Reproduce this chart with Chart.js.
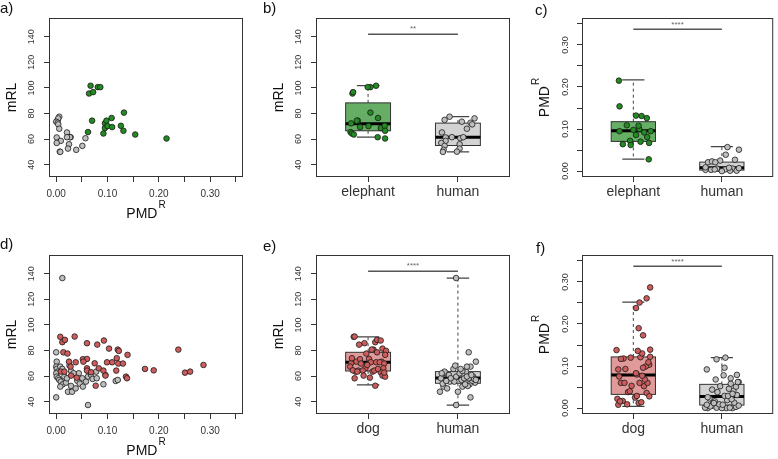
<!DOCTYPE html>
<html>
<head>
<meta charset="utf-8">
<script src="https://cdn.jsdelivr.net/npm/chart.js@4.4.1/dist/chart.umd.min.js"></script>
<style>
  body { margin: 0; background: #fff; width: 778px; height: 459px; position: relative; overflow: hidden; }
  canvas { position: absolute; }
</style>
</head>
<body>
<script>
// ---- axis ticks / categories ----
const pmdTicks = [0, 0.05, 0.10, 0.15, 0.20, 0.25, 0.30, 0.35];
const pmdTickLabels = ['0.00', '', '0.10', '', '0.20', '', '0.30', ''];
const mrlTicks = [40, 60, 80, 100, 120, 140];
const mrlTickLabels = ['40', '60', '80', '100', '120', '140'];
const groupsTop = ['elephant', 'human'];
const groupsBottom = ['dog', 'human'];

// ---- elephant vs human ----
const elPMD = [0.067, 0.064, 0.072, 0.081, 0.086, 0.070, 0.062, 0.028, 0.092, 0.095, 0.098, 0.095, 0.100, 0.108, 0.109, 0.126, 0.132, 0.131, 0.154, 0.215];
const elMRL = [101.7, 95.6, 96.7, 100.6, 100.6, 74.4, 65.5, 61.5, 64.4, 72.3, 74.4, 68.6, 70.2, 76.5, 69.4, 70.4, 80.7, 66.5, 63.6, 60.5];
const elJitB = [0.089, -0.174, -0.167, 0.026, -0.004, -0.115, -0.196, 0.107, -0.18, -0.189, -0.126, 0.141, 0.004, 0.111, -0.089, 0.185, 0.026, 0.189, -0.159, 0.189];
const elJitC = [0.178, -0.119, -0.037, 0.156, 0.030, 0.081, -0.030, 0.174, 0.122, -0.156, 0, 0.196, 0.067, 0.059, -0.074, 0.152, 0.030, 0.093, -0.156, -0.163];

const huPMD = [0.006, 0.003, 0.004, 0.000, 0.003, 0.004, 0.006, 0.021, 0.027, 0.001, 0.057, 0.009, 0.001, 0.025, 0.051, 0.023, 0.039, 0.007, 0.008, 0.021];
const huMRL = [77.5, 75.0, 76.2, 73.6, 72.8, 71.5, 68.1, 65.2, 61.5, 61.3, 60.7, 58.6, 57.0, 56.0, 54.7, 52.6, 51.6, 50.2, 50.0, 61.5];
const huJitB = [-0.093, -0.148, 0.185, 0.044, 0.141, 0.159, 0.100, -0.178, -0.067, -0.137, 0.026, -0.137, -0.185, 0.019, -0.148, 0.019, -0.159, -0.011, -0.167, 0.06];
const huJitC = [-0.056, -0.122, 0.037, 0, -0.185, -0.081, 0.122, -0.156, 0.148, 0.093, 0.063, -0.185, 0.167, -0.019, 0.193, -0.111, 0.044, 0.193, 0.081, -0.074];

// ---- dog vs human ----
const dogPMD = [0.008, 0.012, 0.017, 0.036, 0.060, 0.080, 0.093, 0.103, 0.120, 0.122, 0.139, 0.014, 0.022, 0.025, 0.038, 0.052, 0.060, 0.053, 0.075, 0.099, 0.109, 0.118, 0.121, 0.130, 0.009, 0.016, 0.028, 0.060, 0.060, 0.068, 0.083, 0.092, 0.096, 0.117, 0.136, 0.138, 0.077, 0.040, 0.029, 0.173, 0.190, 0.238, 0.251, 0.261, 0.287];
const dogMRL = [90.7, 86.5, 88.3, 90.9, 85.7, 84.6, 87.8, 81.5, 80.7, 79.7, 76.6, 78.6, 77.6, 71.3, 70.8, 73.2, 73.4, 71.3, 70.0, 70.8, 70.8, 74.0, 69.8, 69.8, 63.5, 63.5, 67.4, 66.1, 64.3, 63.0, 66.1, 64.3, 60.4, 64.3, 59.6, 58.3, 52.5, 58.8, 60.4, 65.6, 64.5, 80.7, 62.7, 63.5, 68.7];
const dogJitE = [-0.16, 0.08, 0.10, -0.15, -0.04, -0.10, 0.14, 0.16, 0.06, 0.20, 0.19, 0.10, -0.02, -0.13, 0.09, -0.09, 0.01, 0.15, -0.19, 0.03, 0.13, -0.18, 0.18, -0.08, -0.14, 0.05, -0.20, 0.17, -0.11, 0.14, -0.03, 0.07, 0.16, -0.06, 0.19, -0.15, 0.08, 0.02, -0.05, 0.11, -0.17, 0.04, 0.18, -0.12, -0.01];
const dogJitF = [-0.17, 0.06, -0.12, 0.15, -0.14, 0.04, -0.09, 0.18, -0.03, 0.19, 0.19, 0.09, -0.18, 0.02, -0.06, 0.12, 0.16, -0.02, -0.16, 0.14, 0.17, -0.11, 0.08, 0.10, -0.07, -0.15, 0.18, 0.07, -0.10, 0.13, 0.03, -0.17, 0.11, -0.14, 0.05, -0.19, 0.10, -0.04, 0.04, 0.11, 0.06, 0.03, 0.07, 0.15, 0.19];

const hdPMD = [0.012, 0.000, 0.000, 0.062, 0.001, 0.000, 0.001, 0.003, 0.000, 0.001, 0.004, 0.006, 0.009, 0.013, 0.008, 0.019, 0.016, 0.021, 0.023, 0.029, 0.031, 0.038, 0.041, 0.044, 0.046, 0.051, 0.052, 0.058, 0.062, 0.068, 0.071, 0.078, 0.079, 0.092, 0.096, 0.116, 0.120, 0.026, 0.029, 0.034, 0.008, 0.012];
const hdMRL = [136.6, 78.6, 43.4, 37.4, 71.3, 67.4, 65.6, 63.5, 62.2, 59.6, 58.3, 57.0, 55.7, 53.6, 51.8, 54.9, 59.6, 58.3, 47.8, 52.3, 47.8, 50.4, 56.4, 62.2, 54.1, 58.3, 51.8, 55.7, 59.6, 60.9, 57.8, 63.5, 58.3, 53.6, 60.9, 56.2, 57.0, 68.2, 64.0, 62.2, 67.4, 65.6];
const hdJitE = [-0.02, 0.12, 0.14, -0.02, 0.20, 0.14, -0.05, 0.09, -0.13, 0.17, -0.19, 0.04, -0.09, 0.13, -0.16, 0.19, -0.02, 0.07, -0.20, 0.11, 0.00, -0.12, 0.16, 0.02, -0.17, 0.12, 0.05, -0.04, 0.10, -0.10, 0.18, -0.15, -0.08, 0.08, 0.15, -0.13, 0.20, -0.03, 0.05, -0.18, 0.10, 0.03];
const hdJitF = [-0.10, -0.16, 0.05, 0.19, -0.06, 0.12, -0.19, 0.16, 0.00, 0.09, -0.13, 0.19, -0.03, 0.14, -0.17, 0.06, -0.08, 0.11, -0.14, 0.03, 0.17, -0.05, 0.13, -0.11, 0.08, 0.16, -0.02, 0.10, 0.18, -0.07, 0.10, 0.02, 0.17, -0.17, 0.03, -0.06, 0.04, -0.16, 0.07, 0.12, 0.01, -0.09];

// ---- box statistics: [whisker low, q1, median, q3, whisker high] ----
const boxElMRL = [61.5, 66.5, 72.0, 88.3, 101.7];
const boxHuMRL = [50.0, 55.0, 61.5, 72.5, 77.5];
const boxElPMD = [0.0286, 0.0706, 0.096, 0.1175, 0.2167];
const boxHuPMD = [0.0, 0.0024, 0.008, 0.0214, 0.058];
const boxDogMRL = [53.1, 64.0, 70.8, 78.6, 90.7];
const boxHdMRL = [37.4, 54.4, 58.5, 63.5, 136.6];
const boxDogPMD = [0.004, 0.0326, 0.0788, 0.1217, 0.252];
const boxHdPMD = [0.0, 0.0072, 0.0278, 0.0565, 0.120];

const sigMRL = 142;
const sigPMD = 0.337;

// ---- colours ----
const GREEN = '#228B22', GREEN_BOX = '#66ad66';
const GREY = '#bebebe', GREY_BOX = '#d3d3d3';
const RED = '#cd5c5c', RED_BOX = '#e09a9a';

Chart.defaults.font.family = "'Liberation Sans', Arial, sans-serif";
Chart.defaults.color = '#333';
Chart.defaults.animation = false;

const rDecor = {
  id: 'rDecor',
  beforeDatasetsDraw(chart, args, o) {
    const ctx = chart.ctx, xs = chart.scales.x, ys = chart.scales.y;
    (o.boxes || []).forEach((b, i) => {
      const c = i + 1;
      const [lo, q1, md, q3, hi] = b.stats;
      const xc = xs.getPixelForValue(c);
      const xl = xs.getPixelForValue(c - 0.25), xr = xs.getPixelForValue(c + 0.25);
      const cl = xs.getPixelForValue(c - 0.125), cr = xs.getPixelForValue(c + 0.125);
      ctx.save();
      ctx.strokeStyle = '#444';
      ctx.lineWidth = 1;
      ctx.setLineDash([3, 3]);
      ctx.beginPath();
      ctx.moveTo(xc, ys.getPixelForValue(q3)); ctx.lineTo(xc, ys.getPixelForValue(hi));
      ctx.moveTo(xc, ys.getPixelForValue(q1)); ctx.lineTo(xc, ys.getPixelForValue(lo));
      ctx.stroke();
      ctx.setLineDash([]);
      ctx.lineWidth = 1.2;
      ctx.beginPath();
      ctx.moveTo(cl, ys.getPixelForValue(hi)); ctx.lineTo(cr, ys.getPixelForValue(hi));
      ctx.moveTo(cl, ys.getPixelForValue(lo)); ctx.lineTo(cr, ys.getPixelForValue(lo));
      ctx.stroke();
      const yt = ys.getPixelForValue(q3), yb = ys.getPixelForValue(q1);
      ctx.fillStyle = b.fill;
      ctx.fillRect(xl, yt, xr - xl, yb - yt);
      ctx.strokeStyle = '#333';
      ctx.lineWidth = 1;
      ctx.strokeRect(xl, yt, xr - xl, yb - yt);
      ctx.strokeStyle = '#000';
      ctx.lineWidth = 3;
      ctx.beginPath();
      ctx.moveTo(xl, ys.getPixelForValue(md)); ctx.lineTo(xr, ys.getPixelForValue(md));
      ctx.stroke();
      ctx.restore();
    });
  },
  afterDraw(chart, args, o) {
    const ctx = chart.ctx, a = chart.chartArea;
    ctx.save();
    ctx.strokeStyle = '#333';
    ctx.lineWidth = 1;
    ctx.strokeRect(a.left + 0.5, a.top + 0.5, a.right - a.left - 1, a.bottom - a.top - 1);
    ctx.fillStyle = '#111';
    ctx.textBaseline = 'alphabetic';
    ctx.textAlign = 'left';
    ctx.font = "15px 'Liberation Sans', Arial, sans-serif";
    ctx.fillText(o.label, o.lx, o.ly);

    const drawTitle = (x, y, main, sup, rot) => {
      ctx.save();
      ctx.translate(x, y);
      if (rot) ctx.rotate(-Math.PI / 2);
      ctx.font = "14px 'Liberation Sans', Arial, sans-serif";
      const wm = ctx.measureText(main).width;
      ctx.font = "10px 'Liberation Sans', Arial, sans-serif";
      const ws = sup ? ctx.measureText(sup).width + 1 : 0;
      const x0 = -(wm + ws) / 2;
      ctx.textBaseline = 'middle';
      ctx.textAlign = 'left';
      ctx.font = "14px 'Liberation Sans', Arial, sans-serif";
      ctx.fillText(main, x0, 0);
      if (sup) {
        ctx.font = "10px 'Liberation Sans', Arial, sans-serif";
        ctx.fillText(sup, x0 + wm + 1, -9);
      }
      ctx.restore();
    };
    if (o.xTitle) drawTitle((a.left + a.right) / 2, a.bottom + 37, o.xTitle, o.xSup, false);
    drawTitle(a.left - 37, (a.top + a.bottom) / 2, o.yTitle, o.ySup, true);

    if (o.stars) {
      const xs = chart.scales.x, ys = chart.scales.y;
      ctx.font = "8px 'Liberation Sans', Arial, sans-serif";
      ctx.fillStyle = '#666';
      ctx.textAlign = 'center';
      ctx.textBaseline = 'bottom';
      ctx.fillText(o.stars, xs.getPixelForValue(1.5), ys.getPixelForValue(o.starsY) - 1);
    }
    ctx.restore();
  }
};

function axis(min, max, ticks, labels, vertical, size, pad, fitSize) {
  return {
    type: 'linear', min, max,
    afterBuildTicks: s => { s.ticks = ticks.map(v => ({ value: v })); },
    afterFit: s => { if (vertical) s.width = fitSize; else s.height = fitSize; },
    ticks: {
      autoSkip: false,
      callback: (v, i) => labels[i],
      color: '#333',
      font: { size },
      padding: pad,
      minRotation: vertical ? 90 : 0,
      maxRotation: vertical ? 90 : 0,
      crossAlign: vertical ? 'center' : 'near'
    },
    grid: { drawOnChartArea: false, drawTicks: true, tickLength: 5, tickColor: '#333', tickWidth: 1 },
    border: { display: false }
  };
}

function pts(xs, ys, base) {
  return xs.map((x, i) => ({ x: base === undefined ? x : base + x, y: ys[i] }));
}
function jit(jits, vals, base) {
  return jits.map((j, i) => ({ x: base + j, y: vals[i] }));
}
function dots(data, fill, order) {
  return { data, backgroundColor: fill, borderColor: '#1a1a1a', borderWidth: 0.8, pointRadius: 2.8, order };
}
function sigLine(y) {
  return { data: [{ x: 1, y }, { x: 2, y }], showLine: true, borderColor: '#555', borderWidth: 1.5, pointRadius: 0, order: 0 };
}

const MRL_MIN = 30.4, MRL_MAX = 154.6, PMD_MIN = -0.014, PMD_MAX = 0.364;

function makePanel(p, datasets, xAxis, yAxis, deco) {
  const cv = document.createElement('canvas');
  cv.width = p.w; cv.height = p.h;
  cv.style.left = p.left + 'px'; cv.style.top = p.top + 'px';
  document.body.appendChild(cv);
  new Chart(cv, {
    type: 'scatter',
    data: { datasets },
    options: {
      responsive: false,
      maintainAspectRatio: false,
      events: [],
      layout: { padding: { left: 0, top: p.area[1], right: p.w - p.area[2], bottom: 0 } },
      scales: { x: xAxis, y: yAxis },
      plugins: { legend: { display: false }, tooltip: { enabled: false }, rDecor: deco }
    },
    plugins: [rDecor]
  });
}

// panel geometry (canvas-local plot area: left, top, right, bottom)
const PA = { left: 0, top: 0, w: 259, h: 225, area: [49, 18, 243, 177] };
const PB = { left: 259, top: 0, w: 259, h: 225, area: [57, 18, 251, 177] };
const PC = { left: 518, top: 0, w: 260, h: 225, area: [64, 18, 258, 177] };
const PD = { left: 0, top: 225, w: 259, h: 234, area: [49, 30, 243, 189] };
const PE = { left: 259, top: 225, w: 259, h: 234, area: [57, 30, 251, 189] };
const PF = { left: 518, top: 225, w: 260, h: 234, area: [64, 30, 258, 189] };

const catLabelsTop = groupsTop, catLabelsBottom = groupsBottom;

// a) scatter elephant / human
makePanel(PA,
  [dots(pts(elPMD, elMRL), GREEN, 2), dots(pts(huPMD, huMRL), GREY, 1)],
  axis(PMD_MIN, PMD_MAX, pmdTicks, pmdTickLabels, false, 10, 6, PA.h - PA.area[3]),
  axis(MRL_MIN, MRL_MAX, mrlTicks, mrlTickLabels, true, 9, 5, PA.area[0]),
  { label: 'a)', lx: 0, ly: 13, xTitle: 'PMD', xSup: 'R', yTitle: 'mRL' });

// b) mRL elephant / human
makePanel(PB,
  [sigLine(sigMRL), dots(jit(elJitB, elMRL, 1), GREEN, 2), dots(jit(huJitB, huMRL, 2), GREY, 1)],
  axis(0.42, 2.58, [1, 2], catLabelsTop, false, 14, 2, PB.h - PB.area[3]),
  axis(MRL_MIN, MRL_MAX, mrlTicks, mrlTickLabels, true, 9, 5, PB.area[0]),
  { label: 'b)', lx: 4, ly: 13, yTitle: 'mRL', boxes: [{ stats: boxElMRL, fill: GREEN_BOX }, { stats: boxHuMRL, fill: GREY_BOX }], stars: '**', starsY: sigMRL });

// c) PMD elephant / human
makePanel(PC,
  [sigLine(sigPMD), dots(jit(elJitC, elPMD, 1), GREEN, 2), dots(jit(huJitC, huPMD, 2), GREY, 1)],
  axis(0.42, 2.58, [1, 2], catLabelsTop, false, 14, 2, PC.h - PC.area[3]),
  axis(PMD_MIN, PMD_MAX, pmdTicks, pmdTickLabels, true, 9, 3, PC.area[0]),
  { label: 'c)', lx: 17, ly: 15, yTitle: 'PMD', ySup: 'R', boxes: [{ stats: boxElPMD, fill: GREEN_BOX }, { stats: boxHuPMD, fill: GREY_BOX }], stars: '****', starsY: sigPMD });

// d) scatter dog / human
makePanel(PD,
  [dots(pts(dogPMD, dogMRL), RED, 1), dots(pts(hdPMD, hdMRL), GREY, 2)],
  axis(PMD_MIN, PMD_MAX, pmdTicks, pmdTickLabels, false, 10, 6, PD.h - PD.area[3]),
  axis(MRL_MIN, MRL_MAX, mrlTicks, mrlTickLabels, true, 9, 5, PD.area[0]),
  { label: 'd)', lx: 0, ly: 24, xTitle: 'PMD', xSup: 'R', yTitle: 'mRL' });

// e) mRL dog / human
makePanel(PE,
  [sigLine(sigMRL), dots(jit(dogJitE, dogMRL, 1), RED, 2), dots(jit(hdJitE, hdMRL, 2), GREY, 1)],
  axis(0.42, 2.58, [1, 2], catLabelsBottom, false, 14, 2, PE.h - PE.area[3]),
  axis(MRL_MIN, MRL_MAX, mrlTicks, mrlTickLabels, true, 9, 5, PE.area[0]),
  { label: 'e)', lx: 4, ly: 26, yTitle: 'mRL', boxes: [{ stats: boxDogMRL, fill: RED_BOX }, { stats: boxHdMRL, fill: GREY_BOX }], stars: '****', starsY: sigMRL });

// f) PMD dog / human
makePanel(PF,
  [sigLine(sigPMD), dots(jit(dogJitF, dogPMD, 1), RED, 2), dots(jit(hdJitF, hdPMD, 2), GREY, 1)],
  axis(0.42, 2.58, [1, 2], catLabelsBottom, false, 14, 2, PF.h - PF.area[3]),
  axis(PMD_MIN, PMD_MAX, pmdTicks, pmdTickLabels, true, 9, 3, PF.area[0]),
  { label: 'f)', lx: 18, ly: 28, yTitle: 'PMD', ySup: 'R', boxes: [{ stats: boxDogPMD, fill: RED_BOX }, { stats: boxHdPMD, fill: GREY_BOX }], stars: '****', starsY: sigPMD });
</script>
</body>
</html>
